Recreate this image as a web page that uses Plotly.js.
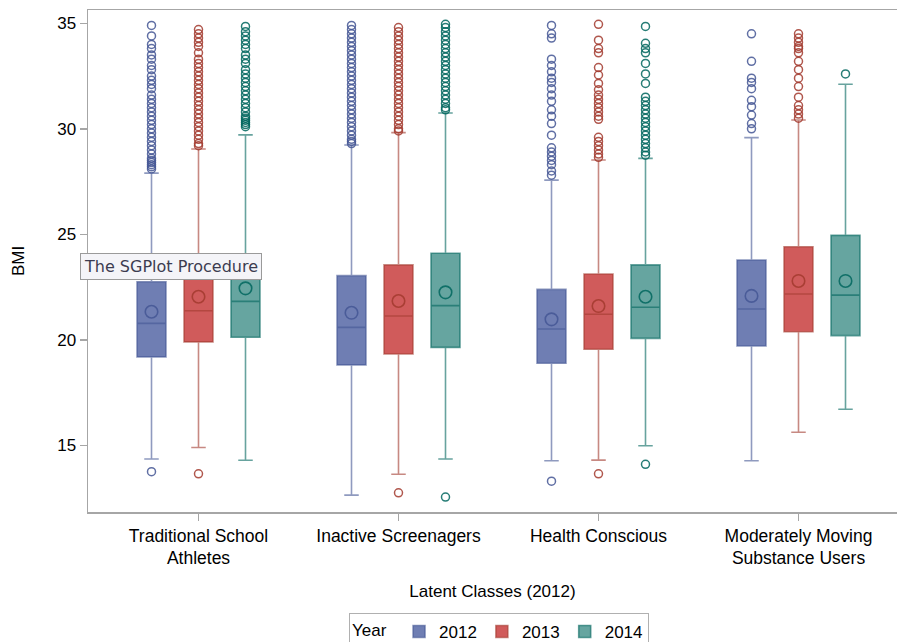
<!DOCTYPE html>
<html>
<head>
<meta charset="utf-8">
<script src="https://cdn.plot.ly/plotly-3.0.1.min.js"></script>
<style>
  html, body { margin: 0; padding: 0; background: #ffffff; }
  #chart { width: 897px; height: 642px; }
</style>
</head>
<body>
<div id="chart"></div>
<script>
// ---- Data ----
const categories = ['Traditional School<br>Athletes', 'Inactive Screenagers', 'Health Conscious', 'Moderately Moving<br>Substance Users'];
const years = ['2012', '2013', '2014'];

const q1_2012     = [19.19, 18.81, 18.89, 19.71];
const median_2012 = [20.78, 20.59, 20.51, 21.46];
const q3_2012     = [22.75, 23.04, 22.39, 23.78];
const lower_2012  = [14.35, 12.64, 14.27, 14.27];
const upper_2012  = [27.90, 29.23, 27.57, 29.58];
const mean_2012   = [21.33, 21.28, 20.97, 22.08];

const q1_2013     = [19.90, 19.33, 19.55, 20.38];
const median_2013 = [21.38, 21.13, 21.21, 22.17];
const q3_2013     = [23.60, 23.55, 23.12, 24.41];
const lower_2013  = [14.90, 13.63, 14.30, 15.62];
const upper_2013  = [29.04, 29.82, 28.52, 30.42];
const mean_2013   = [22.04, 21.84, 21.60, 22.79];

const q1_2014     = [20.12, 19.64, 20.07, 20.20];
const median_2014 = [21.82, 21.62, 21.54, 22.12];
const q3_2014     = [23.96, 24.10, 23.55, 24.95];
const lower_2014  = [14.29, 14.35, 14.98, 16.71];
const upper_2014  = [29.71, 30.75, 28.60, 32.11];
const mean_2014   = [22.44, 22.25, 22.04, 22.79];

const outliers_2012 = [
  [34.9, 34.4, 34.0, 33.8, 33.5, 33.3, 33.0, 32.8, 32.5, 32.3, 32.1, 31.9, 31.6, 31.4, 31.2, 31.0, 30.8, 30.6, 30.4, 30.2, 30.0, 29.8, 29.6, 29.4, 29.2, 29.0, 28.8, 28.6, 28.5, 28.4, 28.3, 28.2, 28.1, 13.75],
  [34.9, 34.7, 34.5, 34.3, 34.1, 33.9, 33.7, 33.5, 33.3, 33.1, 32.9, 32.7, 32.5, 32.3, 32.1, 31.9, 31.7, 31.5, 31.3, 31.1, 30.9, 30.7, 30.5, 30.3, 30.1, 29.9, 29.7, 29.5, 29.4, 29.3],
  [34.9, 34.5, 34.3, 33.3, 33.0, 32.7, 32.4, 32.2, 31.9, 31.6, 31.3, 30.9, 30.6, 30.25, 29.7, 29.1, 28.9, 28.7, 28.5, 28.3, 28.0, 27.8, 13.3],
  [34.5, 33.2, 32.4, 32.2, 31.9, 31.35, 31.05, 30.65, 30.25, 30.0]
];
const outliers_2013 = [
  [34.7, 34.5, 34.3, 34.1, 33.9, 33.6, 33.3, 33.1, 32.9, 32.7, 32.5, 32.3, 32.1, 31.9, 31.7, 31.5, 31.3, 31.1, 30.9, 30.7, 30.5, 30.3, 30.1, 29.9, 29.7, 29.5, 29.3, 29.2, 13.65],
  [34.8, 34.6, 34.4, 34.2, 34.0, 33.8, 33.6, 33.4, 33.2, 33.0, 32.8, 32.6, 32.4, 32.2, 32.0, 31.8, 31.6, 31.4, 31.2, 31.0, 30.8, 30.6, 30.4, 30.2, 30.0, 29.9, 12.75],
  [34.95, 34.2, 33.8, 33.6, 32.9, 32.55, 32.15, 31.85, 31.6, 31.4, 31.2, 31.0, 30.8, 30.6, 30.45, 29.6, 29.4, 29.2, 29.0, 28.8, 28.65, 13.65],
  [34.5, 34.3, 34.1, 33.9, 33.8, 33.6, 33.2, 32.8, 32.4, 32.0, 31.5, 31.1, 30.9, 30.7, 30.5]
];
const outliers_2014 = [
  [34.85, 34.6, 34.4, 34.2, 34.0, 33.8, 33.5, 33.3, 33.1, 32.8, 32.6, 32.4, 32.2, 32.0, 31.8, 31.6, 31.4, 31.2, 31.0, 30.8, 30.6, 30.5, 30.4, 30.3, 30.2, 30.1],
  [34.95, 34.8, 34.6, 34.4, 34.2, 34.0, 33.8, 33.6, 33.4, 33.2, 33.0, 32.8, 32.6, 32.4, 32.2, 32.0, 31.8, 31.6, 31.4, 31.2, 31.0, 30.9, 12.55],
  [34.85, 34.05, 33.8, 33.6, 33.1, 32.6, 32.15, 31.5, 31.3, 31.1, 30.9, 30.7, 30.5, 30.3, 30.1, 29.9, 29.7, 29.5, 29.3, 29.1, 28.9, 28.75, 14.1],
  [32.6]
];

// ---- Styles ----
const fillColors = ['#6F7EB3', '#D05B5B', '#66A5A0'];
const lineColors = ['rgba(68,86,148,0.6)', 'rgba(162,58,46,0.6)', 'rgba(1,102,94,0.6)'];
const markColors = ['rgba(68,86,148,0.85)', 'rgba(162,58,46,0.85)', 'rgba(1,102,94,0.85)'];

const stats = [
  {q1: q1_2012, med: median_2012, q3: q3_2012, lo: lower_2012, hi: upper_2012, mean: mean_2012, out: outliers_2012},
  {q1: q1_2013, med: median_2013, q3: q3_2013, lo: lower_2013, hi: upper_2013, mean: mean_2013, out: outliers_2013},
  {q1: q1_2014, med: median_2014, q3: q3_2014, lo: lower_2014, hi: upper_2014, mean: mean_2014, out: outliers_2014}
];

const traces = [];
stats.forEach((s, i) => {
  traces.push({
    type: 'box',
    name: years[i],
    x: categories,
    y: s.out,
    q1: s.q1, median: s.med, q3: s.q3,
    lowerfence: s.lo, upperfence: s.hi,
    boxpoints: 'outliers',
    pointpos: 0,
    jitter: 0,
    whiskerwidth: 0.5,
    fillcolor: fillColors[i],
    line: {color: lineColors[i], width: 1.6},
    marker: {symbol: 'circle-open', size: 8, color: markColors[i], line: {color: markColors[i], width: 1.5}},
    hoverinfo: 'skip'
  });
});
stats.forEach((s, i) => {
  traces.push({
    type: 'scatter',
    mode: 'markers',
    name: years[i] + ' mean',
    x: categories,
    y: s.mean,
    showlegend: false,
    marker: {symbol: 'circle-open', size: 12.5, color: markColors[i], line: {color: markColors[i], width: 1.6}},
    hoverinfo: 'skip'
  });
});

const FONT = 'Liberation Sans, Arial, sans-serif';
const layout = {
  width: 897, height: 642,
  paper_bgcolor: '#ffffff', plot_bgcolor: '#ffffff',
  margin: {l: 88, r: 0, t: 10, b: 130, autoexpand: false},
  font: {family: FONT, size: 17, color: '#000000'},
  boxmode: 'group',
  boxgap: 0.295,
  boxgroupgap: 0.383,
  scattermode: 'group',
  scattergap: 0.295,
  showlegend: true,
  xaxis: {
    type: 'category',
    range: [-0.5525, 3.4925],
    showline: true, linecolor: '#a6a6a6', linewidth: 1.5, mirror: true,
    ticks: 'outside', ticklen: 7, tickcolor: '#a6a6a6', tickwidth: 1.5,
    showgrid: false, zeroline: false,
    tickfont: {family: FONT, size: 17.5, color: '#000000'},
    title: {text: 'Latent Classes (2012)', font: {family: FONT, size: 17, color: '#000000'}, standoff: 18}
  },
  yaxis: {
    range: [11.84, 35.63],
    tickvals: [15, 20, 25, 30, 35],
    showline: true, linecolor: '#a6a6a6', linewidth: 1.5, mirror: true,
    ticks: 'outside', ticklen: 7, tickcolor: '#a6a6a6', tickwidth: 1.5,
    showgrid: false, zeroline: false,
    tickfont: {family: FONT, size: 17, color: '#000000'},
    title: {text: 'BMI', font: {family: FONT, size: 17, color: '#000000'}, standoff: 28}
  },
  legend: {
    orientation: 'h',
    x: 0.508, xanchor: 'center',
    y: -0.201, yanchor: 'top',
    bordercolor: '#b0b0b0', borderwidth: 1,
    bgcolor: '#ffffff',
    font: {family: FONT, size: 17, color: '#000000'},
    title: {text: 'Year ', side: 'left', font: {family: FONT, size: 17, color: '#000000'}},
    itemwidth: 30
  },
  annotations: [{
    xref: 'paper', yref: 'paper',
    x: -0.0099, xanchor: 'left',
    y: 0.49, yanchor: 'middle',
    text: 'The SGPlot Procedure',
    showarrow: false,
    font: {family: 'DejaVu Sans, sans-serif', size: 16, color: '#3c3c50'},
    bgcolor: '#f4f4f8',
    bordercolor: '#9a9a9a',
    borderwidth: 1,
    borderpad: 3
  }]
};

Plotly.newPlot('chart', traces, layout, {staticPlot: true, displayModeBar: false});
</script>
</body>
</html>
